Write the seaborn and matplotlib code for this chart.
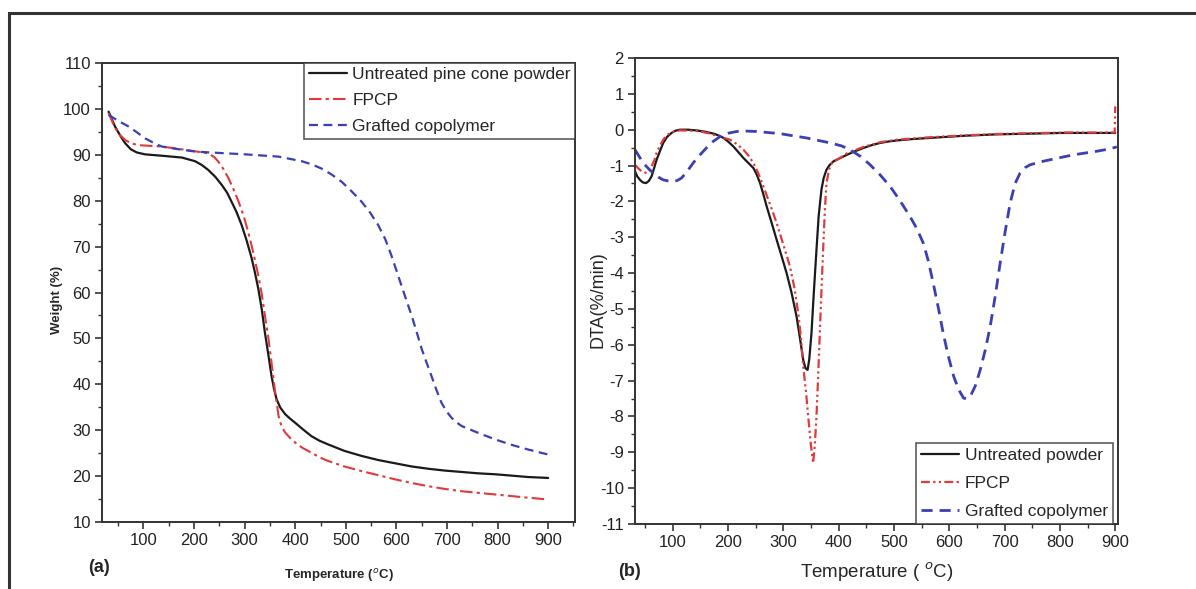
import matplotlib
matplotlib.use("Agg")
import matplotlib.pyplot as plt
from matplotlib.patches import Rectangle
from matplotlib.ticker import MultipleLocator
import seaborn as sns

# (a) TGA curves: temperature (°C) and weight (%)
untreated_t = [31, 38, 44, 55, 64, 75, 87, 103, 136, 176, 202, 215, 228, 242, 255, 265, 274, 284,
               294, 304, 314, 320, 327, 334, 340, 347, 353, 358, 363, 370, 380, 390, 400, 415,
               432, 448, 465, 497, 531, 564, 597, 630, 663, 696, 729, 762, 795, 828, 860, 900]
untreated_w = [99.4, 97.6, 96.1, 94.0, 92.5, 91.2, 90.5, 90.1, 89.8, 89.4, 88.6, 87.8, 86.7, 85.2,
               83.4, 81.8, 79.8, 77.5, 74.7, 71.3, 67.4, 64.5, 60.8, 56.2, 51.3, 46.3, 41.9, 39.0,
               36.8, 35.0, 33.5, 32.5, 31.6, 30.2, 28.7, 27.7, 26.9, 25.5, 24.4, 23.5, 22.8, 22.1,
               21.6, 21.2, 20.9, 20.6, 20.4, 20.1, 19.8, 19.6]
fpcp_t = [31, 38, 44, 54, 64, 76, 90, 136, 189, 228, 240, 248, 258, 268, 278, 288, 298, 307, 317,
          327, 334, 340, 347, 353, 360, 367, 373, 380, 390, 400, 415, 432, 448, 465, 497, 531,
          564, 597, 630, 663, 696, 729, 795, 850, 900]
fpcp_w = [99.1, 97.3, 95.8, 94.3, 93.2, 92.5, 92.1, 91.8, 91.0, 90.3, 89.5, 88.5, 86.9, 84.9, 82.5,
          79.8, 76.7, 73.2, 68.7, 63.7, 59.5, 55.0, 50.0, 44.8, 38.5, 33.1, 30.8, 29.5, 28.3,
          27.3, 26.1, 25.1, 24.1, 23.3, 22.1, 21.1, 20.2, 19.3, 18.5, 17.8, 17.2, 16.7, 16.0,
          15.4, 14.9]
grafted_t = [31, 50, 70, 87, 103, 120, 136, 170, 202, 250, 301, 367, 413, 433, 452, 472, 492, 511,
             531, 548, 564, 578, 590, 600, 610, 620, 630, 640, 650, 660, 669, 679, 689, 699, 709,
             719, 729, 762, 795, 828, 860, 900]
grafted_w = [98.7, 97.4, 96.2, 94.9, 93.6, 92.6, 91.8, 91.2, 90.7, 90.4, 90.1, 89.6, 88.6, 87.9,
             87.0, 85.7, 84.1, 82.1, 79.8, 77.4, 74.7, 71.6, 68.1, 64.8, 61.5, 58.2, 55.0, 51.4,
             47.7, 44.6, 41.9, 38.8, 36.0, 34.1, 32.7, 31.7, 30.9, 29.4, 28.0, 26.8, 25.8, 24.7]

# (b) DTA curves: temperature (°C) and rate (%/min)
untreated_dt = [32, 36, 41, 46, 52, 57, 62, 66, 71, 77, 83, 90, 98, 105, 113, 128, 143, 160, 174,
                183, 192, 201, 210, 219, 228, 237, 246, 252, 258, 264, 270, 279, 288, 297, 306,
                315, 324, 330, 336, 340, 344, 347, 351, 355, 360, 364, 369, 373, 378, 384, 391,
                403, 415, 430, 445, 460, 475, 490, 505, 535, 565, 626, 686, 746, 806, 900]
untreated_d = [-1.16, -1.30, -1.40, -1.47, -1.49, -1.43, -1.30, -1.10, -0.84, -0.60, -0.37, -0.20,
               -0.09, -0.03, 0.0, 0.0, -0.02, -0.06, -0.11, -0.16, -0.23, -0.34, -0.47, -0.63,
               -0.79, -0.93, -1.07, -1.25, -1.49, -1.80, -2.14, -2.60, -3.07, -3.53, -4.0, -4.55,
               -5.21, -5.80, -6.42, -6.65, -6.70, -6.40, -5.67, -4.60, -3.35, -2.40, -1.67, -1.35,
               -1.12, -0.98, -0.88, -0.79, -0.70, -0.60, -0.51, -0.43, -0.37, -0.33, -0.30, -0.26,
               -0.23, -0.17, -0.13, -0.11, -0.09, -0.09]
fpcp_dt = [32, 38, 44, 53, 58, 62, 67, 71, 77, 83, 90, 98, 113, 143, 165, 180, 204, 216, 228, 237,
           246, 255, 264, 276, 288, 300, 312, 320, 327, 332, 336, 341, 345, 350, 354, 357, 360,
           363, 366, 369, 372, 375, 378, 383, 388, 403, 415, 445, 475, 505, 565, 626, 686, 746,
           806, 899, 900]
fpcp_d = [-0.98, -1.08, -1.16, -1.21, -1.14, -1.02, -0.85, -0.65, -0.45, -0.28, -0.15, -0.07,
          -0.02, -0.03, -0.10, -0.17, -0.28, -0.40, -0.56, -0.72, -0.93, -1.22, -1.58, -2.08,
          -2.60, -3.20, -3.81, -4.40, -5.12, -5.80, -6.60, -7.30, -8.0, -8.80, -9.30, -8.80,
          -8.0, -6.90, -5.67, -4.50, -3.35, -2.30, -1.49, -1.10, -0.93, -0.78, -0.66, -0.48,
          -0.35, -0.28, -0.21, -0.16, -0.12, -0.10, -0.08, -0.08, 0.65]
grafted_dt = [32, 40, 47, 56, 65, 74, 83, 92, 101, 108, 116, 126, 137, 149, 161, 173, 186, 200, 216,
              235, 252, 294, 342, 385, 405, 421, 440, 457, 475, 493, 511, 529, 541, 553, 562, 571,
              580, 589, 598, 608, 617, 626, 632, 638, 647, 656, 665, 674, 683, 692, 701, 710, 719,
              728, 737, 746, 764, 782, 803, 825, 846, 867, 885, 903]
grafted_d = [-0.56, -0.76, -0.93, -1.08, -1.21, -1.32, -1.40, -1.43, -1.44, -1.42, -1.35, -1.17,
             -0.93, -0.71, -0.51, -0.33, -0.19, -0.10, -0.05, -0.04, -0.05, -0.11, -0.23, -0.37,
             -0.45, -0.56, -0.75, -0.98, -1.26, -1.58, -1.98, -2.42, -2.75, -3.16, -3.65, -4.28,
             -4.95, -5.67, -6.30, -6.88, -7.25, -7.49, -7.50, -7.44, -7.15, -6.70, -6.15, -5.49,
             -4.65, -3.72, -2.85, -2.05, -1.50, -1.21, -1.06, -0.98, -0.90, -0.84, -0.77, -0.70,
             -0.65, -0.60, -0.55, -0.48]

BLACK = "#1a1a1a"
RED = "#e03a3a"
BLUE = "#3b3fb5"
EDGE = "#333333"

sns.set_style("ticks")
plt.rcParams["font.family"] = ["Liberation Sans", "DejaVu Sans"]
plt.rcParams["axes.unicode_minus"] = False

W, H = 1196, 589
fig = plt.figure(figsize=(W / 100, H / 100), dpi=100)
ax1 = fig.add_axes([102 / W, 1 - 522 / H, (575 - 102) / W, (522 - 63) / H])
ax2 = fig.add_axes([635 / W, 1 - 524 / H, (1118 - 635) / W, (524 - 58) / H])

# panel (a)
sns.lineplot(x=untreated_t, y=untreated_w, ax=ax1, color=BLACK, lw=1.6,
             label="Untreated pine cone powder")
sns.lineplot(x=fpcp_t, y=fpcp_w, ax=ax1, color=RED, lw=1.5,
             linestyle=(0, (6, 2, 1.5, 2)), label="FPCP")
sns.lineplot(x=grafted_t, y=grafted_w, ax=ax1, color=BLUE, lw=1.6,
             linestyle=(0, (4, 2.5)), label="Grafted copolymer")
ax1.set_xlim(18, 953)
ax1.set_ylim(10, 110)
ax1.yaxis.set_major_locator(MultipleLocator(10))
ax1.yaxis.set_minor_locator(MultipleLocator(5))
ax1.set_xlabel("Temperature ($^o$C)", fontsize=9.5, fontweight="bold", va="center")
ax1.set_ylabel("Weight (%)", fontsize=9.5, fontweight="bold", va="center")
ax1.xaxis.set_label_coords(0.5, (522 - 576) / 459)
ax1.yaxis.set_label_coords((57 - 102) / 473, (522 - 300) / 459)
ax1.legend(loc="upper right", fontsize=12.5, frameon=True, fancybox=False, edgecolor=EDGE,
           borderaxespad=0, handlelength=2.2, handletextpad=0.3, labelspacing=0.62,
           borderpad=0.25)

# panel (b)
sns.lineplot(x=untreated_dt, y=untreated_d, ax=ax2, color=BLACK, lw=1.6,
             label="Untreated powder")
sns.lineplot(x=fpcp_dt, y=fpcp_d, ax=ax2, color=RED, lw=1.6,
             linestyle=(0, (4, 1.5, 1, 1.5, 1, 1.5)), label="FPCP")
sns.lineplot(x=grafted_dt, y=grafted_d, ax=ax2, color=BLUE, lw=2.0,
             linestyle=(0, (4, 2.5)), label="Grafted copolymer")
ax2.set_xlim(32, 905)
ax2.set_ylim(-11, 2)
ax2.yaxis.set_major_locator(MultipleLocator(1))
ax2.yaxis.set_minor_locator(MultipleLocator(0.5))
ax2.set_xlabel("Temperature ( $^o$C)", fontsize=13.5, va="center")
ax2.set_ylabel("DTA(%/min)", fontsize=13, va="center")
ax2.xaxis.set_label_coords(0.5, (524 - 572) / 466)
ax2.yaxis.set_label_coords((598 - 635) / 483, (524 - 300) / 466)
ax2.legend(loc="lower right", bbox_to_anchor=(1 - 5 / 483, 0), fontsize=12.5, frameon=True,
           fancybox=False, edgecolor=EDGE, borderaxespad=0, handlelength=2.2,
           handletextpad=0.3, labelspacing=0.72, borderpad=0.3)

for ax in (ax1, ax2):
    ax.set_xticks(range(100, 1000, 100))
    ax.xaxis.set_minor_locator(MultipleLocator(50))
    for s in ax.spines.values():
        s.set_visible(True)
        s.set_linewidth(1.4)
        s.set_color(EDGE)
    ax.tick_params(which="major", direction="out", length=5, width=1.2, labelsize=12,
                   color=EDGE, labelcolor="#222222", pad=3)
    ax.tick_params(which="minor", direction="out", length=3, width=1.0, color=EDGE)
    ax.legend_.get_frame().set_linewidth(1.2)

fig.text(88 / W, 1 - 568 / H, "(a)", fontsize=13, fontweight="bold", va="center")
fig.text(618 / W, 1 - 571 / H, "(b)", fontsize=13, fontweight="bold", va="center")

fig.add_artist(Rectangle((9 / W, -0.2), 1.2, 1.2 - 13 / H, transform=fig.transFigure,
                         fill=False, lw=2.2, ec=EDGE))

fig.savefig("out.png", dpi=100)
